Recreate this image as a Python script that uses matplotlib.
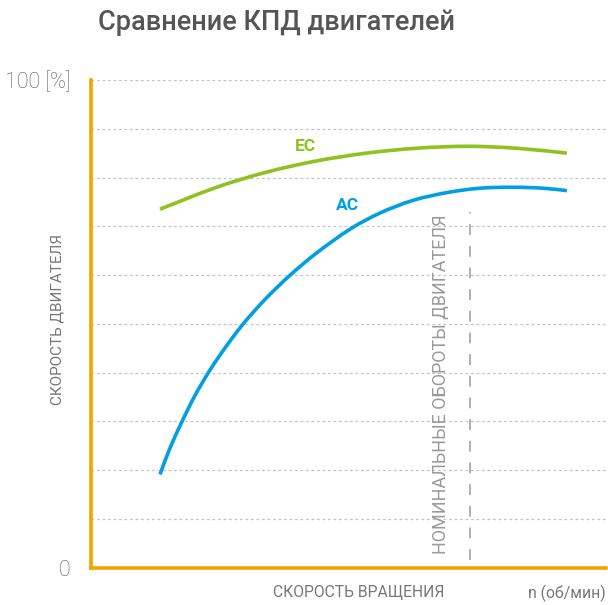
import matplotlib
matplotlib.use('Agg')
import matplotlib.pyplot as plt
from matplotlib.path import Path
from matplotlib.patches import PathPatch

# values (x = % of axis width, y = efficiency %)
ac_x = [13.4, 15.3, 17.7, 20.2, 23.1, 26.0, 29.5, 33.8, 38.6, 43.9, 50.3, 56.1, 62.5, 69.1, 75.5, 81.9, 87.8, 92.4]
ac_y = [19.1, 24.4, 30.0, 35.3, 40.5, 45.0, 49.9, 55.0, 59.9, 64.6, 69.4, 72.7, 75.3, 76.9, 77.8, 78.0, 77.8, 77.3]

ec_x = [13.4, 24.4, 34.1, 43.8, 53.5, 63.2, 73.0, 82.7, 92.4]
ec_y = [73.5, 78.0, 81.1, 83.4, 85.0, 86.0, 86.4, 86.0, 85.0]

nominal_x = 73.6
series_names = ['EC', 'AC']

plt.rcParams['font.family'] = ['Roboto', 'DejaVu Sans']

ORANGE = '#F5A300'
GREEN = '#8DC21F'
BLUE = '#009FE3'
GREY = '#777777'


def smooth_path(xs, ys):
    # catmull-rom through the points, drawn as cubic bezier segments
    pts = list(zip(xs, ys))
    verts = [pts[0]]
    codes = [Path.MOVETO]
    n = len(pts)
    for i in range(n - 1):
        p0 = pts[max(i - 1, 0)]
        p1 = pts[i]
        p2 = pts[i + 1]
        p3 = pts[min(i + 2, n - 1)]
        c1 = (p1[0] + (p2[0] - p0[0]) / 6, p1[1] + (p2[1] - p0[1]) / 6)
        c2 = (p2[0] - (p3[0] - p1[0]) / 6, p2[1] - (p3[1] - p1[1]) / 6)
        verts += [c1, c2, p2]
        codes += [Path.CURVE4] * 3
    return Path(verts, codes)


W, H = 608, 605
fig = plt.figure(figsize=(W / 100, H / 100), dpi=100)
ax = fig.add_axes([91 / W, 1 - 567.5 / H, (606 - 91) / W, (567.5 - 80) / H])

ax.set_xlim(0, 100)
ax.set_ylim(0, 100)

# grid
ax.set_yticks(range(0, 101, 10))
ax.set_yticklabels(['0'] + [''] * 9 + ['100 [%]'])
ax.tick_params(axis='y', length=0, pad=15, labelsize=15.5, labelcolor='#5a5a5a')
ax.set_xticks([])
ax.grid(axis='y', color='#c4c4c4', linestyle=(0, (2.2, 2.2)), linewidth=0.9)
ax.set_axisbelow(True)
for lab in ax.get_yticklabels():
    lab.set_fontweight('light')

for s in ['top', 'right']:
    ax.spines[s].set_visible(False)
for s in ['left', 'bottom']:
    ax.spines[s].set_color(ORANGE)
    ax.spines[s].set_linewidth(2.6)

# curves
ax.add_patch(PathPatch(smooth_path(ec_x, ec_y), facecolor='none', edgecolor=GREEN,
                       linewidth=2.6, capstyle='butt'))
ax.add_patch(PathPatch(smooth_path(ac_x, ac_y), facecolor='none', edgecolor=BLUE,
                       linewidth=2.6, capstyle='butt'))
ax.text(41.6, 86.4, series_names[0], color=GREEN, fontsize=12.5, fontweight='bold',
        ha='center', va='center')
ax.text(49.8, 74.2, series_names[1], color=BLUE, fontsize=12.5, fontweight='bold',
        ha='center', va='center')

# nominal speed
ax.plot([nominal_x, nominal_x], [1.6, 72.9], color='#aaaaaa', linewidth=1.3,
        linestyle=(0, (6, 6)))
ax.text(68.0, 37.7, 'НОМИНАЛЬНЫЕ ОБОРОТЫ ДВИГАТЕЛЯ', rotation=90, color='#9a9a9a',
        fontsize=13.0, fontweight='normal', ha='center', va='center')

# labels
fig.text(98 / W, 1 - 22 / H, 'Сравнение КПД двигателей', fontsize=19.5,
         fontweight='medium', color='#555555', ha='left', va='center')
fig.text(58 / W, 1 - 319 / H, 'СКОРОСТЬ ДВИГАТЕЛЯ', rotation=90, fontsize=11.0,
         fontweight='normal', color=GREY, ha='center', va='center')
fig.text(359 / W, 1 - 593 / H, 'СКОРОСТЬ ВРАЩЕНИЯ', fontsize=11.3,
         fontweight='normal', color=GREY, ha='center', va='center')
fig.text(606 / W, 1 - 593 / H, 'n (об/мин)', fontsize=11.3,
         fontweight='normal', color=GREY, ha='right', va='center')

fig.savefig('out.png', dpi=100)
plt.close(fig)
